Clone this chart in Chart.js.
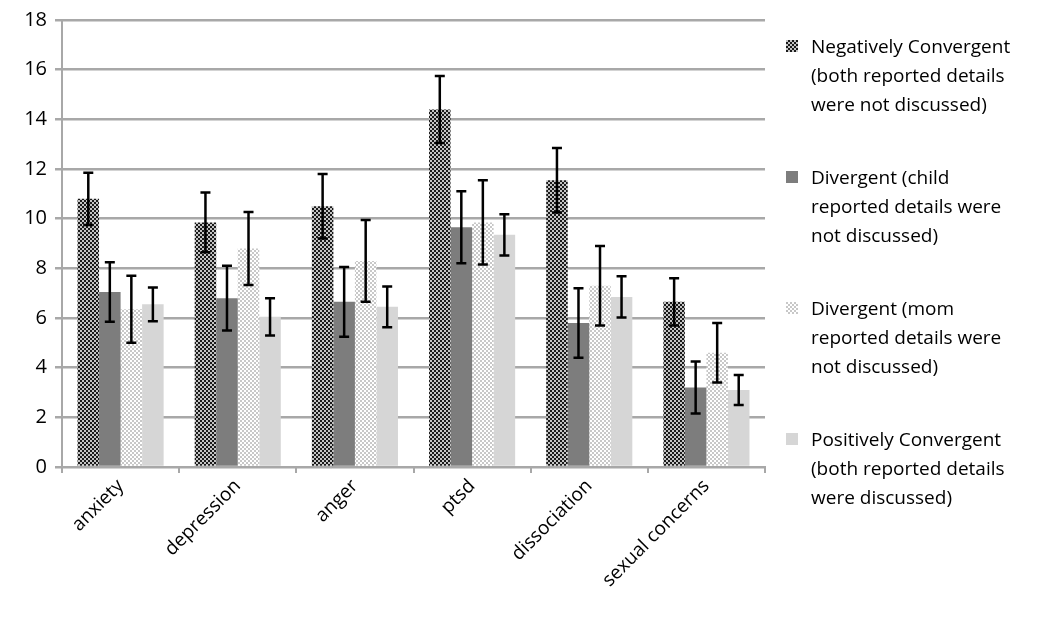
<!DOCTYPE html>
<html>
<head>
<meta charset="utf-8">
<script src="https://cdn.jsdelivr.net/npm/chart.js@4.4.0/dist/chart.umd.min.js"></script>
<style>
  html, body { margin: 0; padding: 0; background: #fff; }
  #wrap { width: 1050px; height: 633px; }
</style>
</head>
<body>
<div id="wrap"><canvas id="grafico" width="1050" height="633"></canvas></div>
<script>
// categorias e valores
const categorias = ["anxiety", "depression", "anger", "ptsd", "dissociation", "sexual concerns"];

const negConv = [10.8, 9.85, 10.5, 14.4, 11.55, 6.65];
const negConvErr = [1.05, 1.2, 1.3, 1.35, 1.3, 0.95];

const divChild = [7.05, 6.8, 6.65, 9.65, 5.8, 3.2];
const divChildErr = [1.2, 1.3, 1.4, 1.45, 1.4, 1.05];

const divMom = [6.35, 8.8, 8.3, 9.85, 7.3, 4.6];
const divMomErr = [1.35, 1.47, 1.65, 1.7, 1.6, 1.2];

const posConv = [6.55, 6.05, 6.45, 9.35, 6.85, 3.1];
const posConvErr = [0.68, 0.75, 0.82, 0.83, 0.83, 0.6];

const legendas = [
  ["Negatively Convergent", "(both reported details", "were not discussed)"],
  ["Divergent (child", "reported details were", "not discussed)"],
  ["Divergent (mom", "reported details were", "not discussed)"],
  ["Positively Convergent", "(both reported details", "were discussed)"],
];

const yTicks = [0, 2, 4, 6, 8, 10, 12, 14, 16, 18];

const FONTE = "'Open Sans', sans-serif";

// padrões de preenchimento (xadrez)
function criarPadrao(fundo, cor, tam, cel) {
  const c = document.createElement("canvas");
  c.width = tam;
  c.height = tam;
  const g = c.getContext("2d");
  g.fillStyle = fundo;
  g.fillRect(0, 0, tam, tam);
  g.fillStyle = cor;
  g.fillRect(0, 0, cel, cel);
  g.fillRect(cel, cel, cel, cel);
  return g.createPattern(c, "repeat");
}

const padraoNeg = criarPadrao("#c4c4c4", "#1a1a1a", 4, 2);
const padraoMom = criarPadrao("#ffffff", "#c8c8c8", 4, 2);

const cores = [padraoNeg, "#7d7d7d", padraoMom, "#d6d6d6"];
const series = [negConv, divChild, divMom, posConv];
const erros = [negConvErr, divChildErr, divMomErr, posConvErr];

// plugin das barras de erro
const barrasErro = {
  id: "barrasErro",
  afterDatasetsDraw(chart) {
    const ctx = chart.ctx;
    const y = chart.scales.y;
    ctx.save();
    ctx.strokeStyle = "#000";
    ctx.lineWidth = 2.5;
    chart.data.datasets.forEach((ds, i) => {
      const meta = chart.getDatasetMeta(i);
      meta.data.forEach((bar, j) => {
        const v = ds.data[j];
        const e = erros[i][j];
        const yt = y.getPixelForValue(v + e);
        const yb = y.getPixelForValue(v - e);
        const x = bar.x;
        ctx.beginPath();
        ctx.moveTo(x, yt);
        ctx.lineTo(x, yb);
        ctx.moveTo(x - 5, yt);
        ctx.lineTo(x + 5, yt);
        ctx.moveTo(x - 5, yb);
        ctx.lineTo(x + 5, yb);
        ctx.stroke();
      });
    });
    ctx.restore();
  },
};

// legenda desenhada à direita
const legendaDireita = {
  id: "legendaDireita",
  afterDraw(chart) {
    const ctx = chart.ctx;
    const x0 = chart.chartArea.right + 21;
    ctx.save();
    ctx.font = "19px " + FONTE;
    ctx.textBaseline = "middle";
    legendas.forEach((linhas, i) => {
      const yBase = 47 + i * 131;
      ctx.fillStyle = cores[i];
      ctx.fillRect(x0, yBase - 7, 12, 12);
      ctx.fillStyle = "#000";
      linhas.forEach((t, k) => {
        ctx.fillText(t, x0 + 25, yBase + 1 + k * 29);
      });
    });
    ctx.restore();
  },
};

const ctx = document.getElementById("grafico").getContext("2d");
new Chart(ctx, {
  type: "bar",
  data: {
    labels: categorias,
    datasets: series.map((s, i) => ({
      label: legendas[i].join(" "),
      data: s,
      backgroundColor: cores[i],
      borderWidth: 0,
      categoryPercentage: 0.735,
      barPercentage: 1.0,
    })),
  },
  options: {
    responsive: false,
    animation: false,
    layout: {
      padding: { top: 10, right: 285, left: 0, bottom: 0 },
    },
    plugins: {
      legend: { display: false },
      tooltip: { enabled: false },
    },
    scales: {
      x: {
        grid: {
          display: true,
          drawOnChartArea: false,
          drawTicks: true,
          tickLength: 6,
          color: "#a8a8a8",
          lineWidth: 2,
          offset: true,
        },
        border: { color: "#a8a8a8", width: 2 },
        ticks: {
          font: { family: FONTE, size: 19 },
          color: "#000",
          minRotation: 45,
          maxRotation: 45,
          padding: 2,
        },
        afterFit(scale) {
          scale.height = 166;
        },
      },
      y: {
        min: 0,
        max: 18,
        afterBuildTicks(scale) {
          scale.ticks = yTicks.map((v) => ({ value: v }));
        },
        grid: {
          color: "#a8a8a8",
          lineWidth: 2.5,
          tickLength: 7,
        },
        border: { color: "#a8a8a8", width: 2 },
        ticks: {
          font: { family: FONTE, size: 20 },
          color: "#000",
          padding: 8,
        },
        afterFit(scale) {
          scale.width = 62;
        },
      },
    },
  },
  plugins: [barrasErro, legendaDireita],
});
</script>
</body>
</html>
